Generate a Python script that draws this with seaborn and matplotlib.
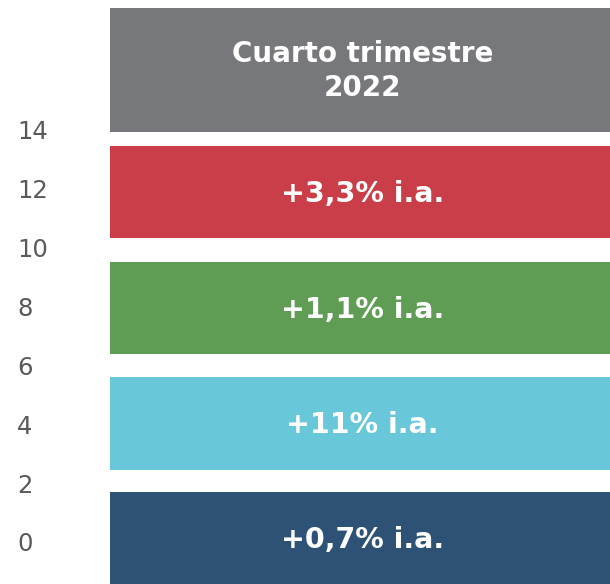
import matplotlib
matplotlib.use("Agg")
import matplotlib.pyplot as plt
import seaborn as sns
import pandas as pd

# Data
labels = ["+0,7% i.a.", "+11% i.a.", "+1,1% i.a.", "+3,3% i.a."]
positions = [0.125, 4.03, 7.935, 11.875]
colors = ["#2D5275", "#68C7D9", "#5F9D55", "#CA3E49"]
header_text = "Cuarto trimestre\n2022"
header_pos = [16.03]
header_color = "#77787C"
yticks = [0, 2, 4, 6, 8, 10, 12, 14]

sns.set_theme(style="white")
plt.rcParams['font.family'] = ['DejaVu Sans']

fig = plt.figure(figsize=(6.1, 5.84), dpi=100)
ax = fig.add_axes([110 / 610, 0, 500 / 610, 1])

df = pd.DataFrame({"pos": positions, "val": [1] * len(positions), "lab": labels})
sns.barplot(data=df, x="val", y="pos", hue="lab", palette=dict(zip(labels, colors)),
            orient="h", native_scale=True, width=3.15 / 3.92, legend=False,
            ax=ax, linewidth=0, saturation=1)

hdf = pd.DataFrame({"pos": header_pos, "val": [1]})
sns.barplot(data=hdf, x="val", y="pos", color=header_color, orient="h",
            native_scale=True, width=4.2, ax=ax, linewidth=0, saturation=1)

ax.set_xlim(0, 1)
ax.set_ylim(-1.426, 18.40)

for p, t in zip(positions, labels):
    ax.text(0.505, p - 0.05, t, ha="center", va="center", color="white",
            fontsize=20.5, fontweight="bold")
ax.text(0.505, header_pos[0] - 0.03, header_text, ha="center", va="center", color="white",
        fontsize=20, fontweight="bold", linespacing=1.27)

ax.set_yticks(yticks)
ax.set_yticklabels([str(v) for v in yticks])
ax.tick_params(axis="y", length=0, pad=67, labelsize=17.5, labelcolor="#595959")
for lab in ax.get_yticklabels():
    lab.set_horizontalalignment("left")
ax.set_xticks([])
ax.set_xlabel("")
ax.set_ylabel("")
for s in ax.spines.values():
    s.set_visible(False)

fig.savefig("out.png", dpi=100)
